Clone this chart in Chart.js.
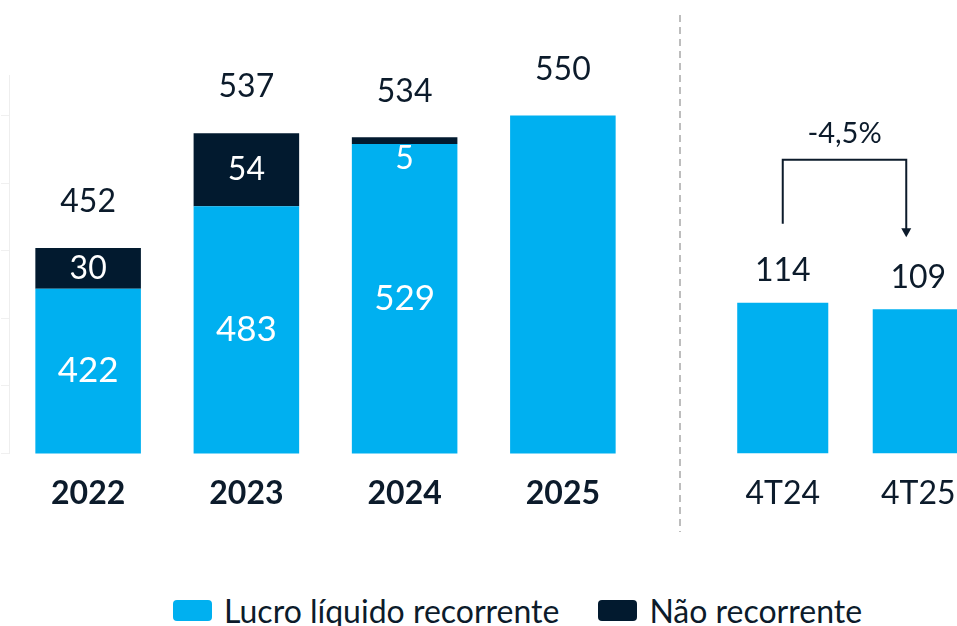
<!DOCTYPE html>
<html>
<head>
<meta charset="utf-8">
<script src="https://cdn.jsdelivr.net/npm/chart.js@4.4.1/dist/chart.umd.min.js"></script>
<style>
  html, body { margin: 0; padding: 0; background: #fff; overflow: hidden; width: 957px; height: 626px; }
  #annualChart { position: absolute; left: 0; top: 0; }
  #quarterChart { position: absolute; left: 660px; top: 0; }
  .legend { position: absolute; left: 173px; top: 591px; display: flex; align-items: center;
            font-family: Lato, sans-serif; font-size: 32px; color: #0c1b2b; }
  .legend .item { display: flex; align-items: center; margin-right: 39px; }
  .legend .box { width: 39px; height: 21px; border-radius: 4px; margin-right: 12px; }
</style>
</head>
<body>
<canvas id="annualChart" width="660" height="540"></canvas>
<canvas id="quarterChart" width="340" height="540"></canvas>
<div class="legend">
  <div class="item"><span class="box" style="background:#00b0f0"></span>Lucro líquido recorrente</div>
  <div class="item"><span class="box" style="background:#021a2f"></span>Não recorrente</div>
</div>
<script>
// data
const years = ['2022', '2023', '2024', '2025'];
const recorrente = [422, 483, 529, 550];
const naoRecorrente = [30, 54, 5, 0];
const totals = [452, 537, 534, 550];

const quarters = ['4T24', '4T25'];
const quarterValues = [114, 109];
const quarterChange = '-4,5%';

const lightBlue = '#00b0f0';
const navy = '#021a2f';
const textColor = '#0c1b2b';
const fontFamily = 'Lato, sans-serif';

// labels on the annual bars
const annualLabels = {
    id: 'annualLabels',
    afterDatasetsDraw(chart) {
        const ctx = chart.ctx;
        const bottom = chart.chartArea.bottom;
        const base = chart.getDatasetMeta(0).data;
        const top = chart.getDatasetMeta(1).data;
        ctx.save();
        ctx.textAlign = 'center';
        ctx.textBaseline = 'middle';
        base.forEach((bar, i) => {
            const hasNao = naoRecorrente[i] > 0;
            const stackTop = hasNao ? top[i].y : bar.y;

            ctx.fillStyle = textColor;
            ctx.font = '32px ' + fontFamily;
            ctx.fillText(totals[i], bar.x, stackTop - 46);

            if (!hasNao) return;
            ctx.fillStyle = '#fff';
            ctx.font = '35px ' + fontFamily;
            ctx.fillText(recorrente[i], bar.x, (bar.y + Math.min(bar.base, bottom)) / 2);

            ctx.font = '32px ' + fontFamily;
            const h = top[i].base - top[i].y;
            if (h >= 28) {
                ctx.fillText(naoRecorrente[i], bar.x, (top[i].y + top[i].base) / 2);
            } else {
                ctx.fillText(naoRecorrente[i], bar.x, top[i].base + 15);
            }
        });
        ctx.restore();
    }
};

// separator, values and variation arrow on the quarter bars
const quarterExtras = {
    id: 'quarterExtras',
    afterDatasetsDraw(chart) {
        const ctx = chart.ctx;
        const bars = chart.getDatasetMeta(0).data;
        ctx.save();

        ctx.strokeStyle = '#bdbdbd';
        ctx.lineWidth = 2;
        ctx.setLineDash([7, 5]);
        ctx.beginPath();
        ctx.moveTo(20, 15);
        ctx.lineTo(20, 532);
        ctx.stroke();
        ctx.setLineDash([]);

        ctx.fillStyle = textColor;
        ctx.font = '32px ' + fontFamily;
        ctx.textAlign = 'center';
        ctx.textBaseline = 'middle';
        bars.forEach((bar, i) => {
            ctx.fillText(quarterValues[i], bar.x, bar.y - 32);
        });

        const x1 = bars[0].x;
        const x2 = bars[1].x - 12;
        const yStart = bars[0].y - 79;
        const yTop = Math.min(bars[0].y, bars[1].y) - 143;
        const yTip = bars[1].y - 72;
        ctx.strokeStyle = textColor;
        ctx.lineWidth = 2;
        ctx.beginPath();
        ctx.moveTo(x1, yStart);
        ctx.lineTo(x1, yTop);
        ctx.lineTo(x2, yTop);
        ctx.lineTo(x2, yTip - 8);
        ctx.stroke();
        ctx.beginPath();
        ctx.moveTo(x2 - 5, yTip - 9);
        ctx.lineTo(x2 + 5, yTip - 9);
        ctx.lineTo(x2, yTip);
        ctx.closePath();
        ctx.fill();

        ctx.font = '29px ' + fontFamily;
        ctx.fillText(quarterChange, (x1 + x2) / 2, yTop - 26);
        ctx.restore();
    }
};

const xAxis = (weight) => ({
    grid: { display: false },
    border: { display: false },
    ticks: {
        color: textColor,
        padding: 13,
        font: { family: fontFamily, size: 32, weight: weight }
    }
});

new Chart(document.getElementById('annualChart'), {
    type: 'bar',
    data: {
        labels: years,
        datasets: [{
            label: 'Lucro líquido recorrente',
            data: recorrente,
            backgroundColor: lightBlue,
            borderWidth: 0,
            barPercentage: 0.667,
            categoryPercentage: 1
        }, {
            label: 'Não recorrente',
            data: naoRecorrente,
            backgroundColor: navy,
            borderWidth: 0,
            barPercentage: 0.667,
            categoryPercentage: 1
        }]
    },
    options: {
        responsive: false,
        animation: false,
        layout: { padding: { top: 75, bottom: 14, left: 1, right: 18 } },
        plugins: { legend: { display: false }, tooltip: { enabled: false } },
        scales: {
            x: Object.assign(xAxis('bold'), { stacked: true }),
            y: {
                stacked: true,
                min: 300,
                max: 580,
                ticks: { display: false, stepSize: 50 },
                afterBuildTicks: (scale) => {
                    scale.ticks = scale.ticks.filter(t => t.value % 50 === 0);
                },
                grid: { drawOnChartArea: false, tickLength: 8, color: '#f0f0f0' },
                border: { color: '#eeeeee' }
            }
        }
    },
    plugins: [annualLabels]
});

new Chart(document.getElementById('quarterChart'), {
    type: 'bar',
    data: {
        labels: quarters,
        datasets: [{
            label: 'Lucro líquido recorrente',
            data: quarterValues,
            backgroundColor: lightBlue,
            borderWidth: 0,
            barPercentage: 0.672,
            categoryPercentage: 1
        }]
    },
    options: {
        responsive: false,
        animation: false,
        layout: { padding: { top: 75, bottom: 14, left: 55, right: 14 } },
        plugins: { legend: { display: false }, tooltip: { enabled: false } },
        scales: {
            x: xAxis('normal'),
            y: { display: false, min: 0, max: 286 }
        }
    },
    plugins: [quarterExtras]
});
</script>
</body>
</html>
